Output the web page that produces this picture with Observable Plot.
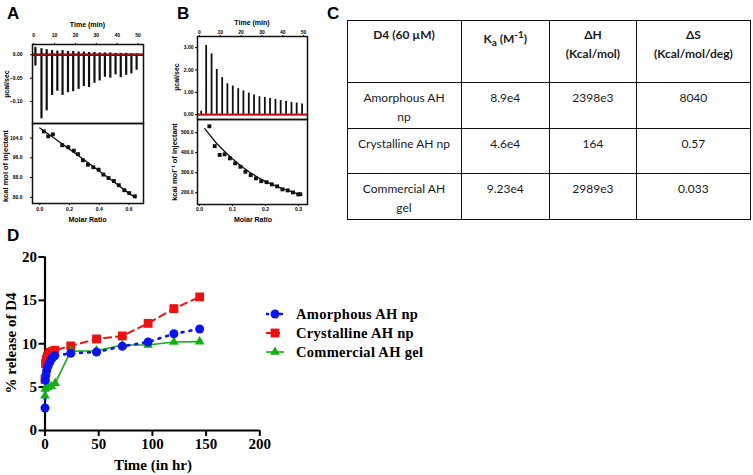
<!DOCTYPE html>
<html><head><meta charset="utf-8">
<script src="https://cdn.jsdelivr.net/npm/d3@7"></script>
<script src="https://cdn.jsdelivr.net/npm/@observablehq/plot@0.6"></script>
<style>
html,body{margin:0;padding:0;background:#fff;}
#fig{position:relative;width:753px;height:475px;overflow:hidden;font-family:"Liberation Sans",Arial,sans-serif;color:#000;}
#fig > *{position:absolute;}
.pl{font-weight:bold;font-size:17px;line-height:1;}
.al{font-weight:bold;font-size:7px;white-space:nowrap;line-height:1;transform:translate(-50%,-50%);}
.al.rot{transform:translate(-50%,-50%) rotate(-90deg);}
.dl{font-family:"Liberation Serif","Times New Roman",serif;font-weight:bold;font-size:15px;white-space:nowrap;line-height:1;transform:translate(-50%,-50%);}
.dl.rot{transform:translate(-50%,-50%) rotate(-90deg);}
table{border-collapse:collapse;table-layout:fixed;font-family:Lato,sans-serif;font-size:12px;color:#1a1a1a;}
td{border:1.5px solid #111;text-align:center;vertical-align:top;white-space:pre-line;line-height:19px;padding:5px 2px 0 2px;}
tr.h td{font-weight:bold;padding-top:4px;}
.leg{font-family:"Liberation Serif","Times New Roman",serif;font-weight:bold;font-size:14.5px;letter-spacing:0.3px;white-space:nowrap;line-height:1;}
.leg div{display:flex;align-items:center;height:19px;}
.leg svg{margin-right:12px;}
</style></head><body>
<div id="fig"></div>
<script>
// ---------- DATA ----------
// Panel A: ITC thermogram (µcal/sec) and isotherm
const injTimesA = [0.8, 3.7, 6.2, 8.8, 11.3, 13.8, 16.4, 18.9, 21.5, 24.0, 26.5, 29.1, 31.6, 34.1, 36.7, 39.2, 41.7, 44.3, 46.8, 49.3];
const aPeaks = [-0.024, -0.137, -0.120, -0.087, -0.078, -0.087, -0.081, -0.079, -0.074, -0.068, -0.070, -0.061, -0.056, -0.048, -0.050, -0.043, -0.049, -0.044, -0.041, -0.033];
const aOvers = [0.016, 0.013, 0.011, 0.009, 0.008, 0.009, 0.007, 0.007, 0.006, 0.006, 0.005, 0.005, 0.004, 0.004, 0.004, 0.003, 0.003, 0.003, 0.002, 0.002];
const molarA = [0.027, 0.057, 0.088, 0.151, 0.192, 0.229, 0.257, 0.290, 0.324, 0.360, 0.396, 0.428, 0.463, 0.499, 0.532, 0.569, 0.602, 0.640];
const heatA = [106.7, 104.7, 105.5, 101.1, 100.3, 98.9, 97.5, 95.0, 93.2, 92.2, 91.2, 89.2, 87.8, 86.6, 84.9, 82.9, 81.7, 80.4];
const fitAx = [0.0, 0.1, 0.2, 0.3, 0.4, 0.5, 0.6, 0.644];
const fitAy = [108.1, 103.8, 99.5, 95.1, 90.7, 86.2, 81.6, 79.8];
// Panel B
const injTimesB = [0.8, 3.2, 5.8, 8.3, 10.9, 13.4, 16.0, 18.6, 21.1, 23.7, 26.2, 28.8, 31.4, 33.9, 36.5, 39.0, 41.6, 44.2, 46.7, 49.3];
const bPeaks = [0.15, 3.10, 2.72, 2.02, 1.66, 1.38, 1.28, 1.16, 1.06, 0.96, 0.88, 0.80, 0.77, 0.72, 0.68, 0.63, 0.60, 0.55, 0.52, 0.47];
const molarB = [0.030, 0.046, 0.061, 0.076, 0.092, 0.108, 0.124, 0.139, 0.155, 0.171, 0.187, 0.203, 0.219, 0.235, 0.251, 0.267, 0.283, 0.299, 0.305];
const heatB = [532, 433, 389, 392, 372, 347, 330, 305, 288, 272, 258, 253, 242, 232, 217, 212, 202, 192, 193];
const fitBx = [0.016, 0.05, 0.08, 0.1, 0.125, 0.15, 0.175, 0.2, 0.225, 0.25, 0.275, 0.3, 0.31];
const fitBy = [520, 450, 400, 370, 335, 305, 278, 256, 238, 222, 207, 193, 188];
// tick labels
const timeTicks = [0, 10, 20, 30, 40, 50];
const aTopTicks = [0, -0.05, -0.10];
const aBotTicks = [80, 88, 96, 104];
const aMolarTicks = [0, 0.2, 0.4, 0.6];
const bTopTicks = [0, 1, 2, 3];
const bBotTicks = [200, 300, 400, 500];
const bMolarTicks = [0, 0.1, 0.2, 0.3];
// Panel C table
const tableHeader = ["D4 (60 µM)", "K<sub>a</sub> (M<sup>-1</sup>)", "ΔH\n(Kcal/mol)", "ΔS\n(Kcal/mol/deg)"];
const tableNames = ["Amorphous AH\nnp", "Crystalline AH np", "Commercial AH\ngel"];
const tableKa = ["8.9e4", "4.6e4", "9.23e4"];
const tableDH = ["2398e3", "164", "2989e3"];
const tableDS = ["8040", "0.57", "0.033"];
// Panel D: release
const seriesNames = ["Amorphous AH np", "Crystalline AH np", "Commercial AH gel"];
const timeAmorph = [0, 0.3, 0.9, 1.5, 2.8, 4.6, 6.5, 9.0, 24, 48, 72, 96, 120, 144];
const relAmorph = [2.6, 5.8, 6.4, 6.9, 7.4, 7.9, 8.3, 8.6, 8.9, 9.05, 9.7, 10.2, 11.15, 11.7];
const timeCryst = [0, 0.5, 1.1, 2.0, 3.6, 5.1, 6.7, 9.1, 24, 48, 72, 96, 120, 144];
const relCryst = [5.9, 7.7, 8.15, 8.5, 8.8, 9.0, 9.1, 9.25, 9.75, 10.55, 10.9, 12.35, 14.05, 15.4];
const timeGel = [0, 0.2, 2.6, 5.8, 9.5, 24, 48, 72, 96, 120, 144];
const relGel = [4.0, 4.8, 4.95, 5.1, 5.45, 9.15, 9.2, 9.85, 9.85, 10.2, 10.25];
const xTicksD = [0, 50, 100, 150, 200];
const yTicksD = [0, 5, 10, 15, 20];

// ---------- BUILD ----------
const fig = document.getElementById("fig");
function put(el, left, top) { el.style.left = left + "px"; el.style.top = top + "px"; fig.appendChild(el); return el; }
function txt(s, cls, x, y) { const d = document.createElement("div"); d.className = cls; d.textContent = s; return put(d, x, y); }

const itcStyle = {fontFamily: "Liberation Sans, Arial, sans-serif", fontWeight: "bold", fontSize: "5px", overflow: "visible", background: "transparent", color: "#000"};
const RED = "#c8171b";

// A top
const injA = injTimesA.map((t, i) => ({t, up: aOvers[i], peak: aPeaks[i]}));
put(Plot.plot({
  width: 150, height: 123, marginLeft: 32, marginRight: 7, marginTop: 44, marginBottom: 0,
  x: {domain: [-0.6, 52.6]}, y: {domain: [-0.147, 0.022]},
  style: itcStyle,
  marks: [
    Plot.axisX(timeTicks, {anchor: "top", tickSize: 2, tickPadding: 6, label: null, fill: "#000"}),
    Plot.axisY(aTopTicks, {anchor: "left", tickSize: 2, tickPadding: 8, tickFormat: d3.format(".2f"), label: null, fill: "#000"}),
    Plot.ruleY([0], {stroke: "#111", strokeWidth: 2.5}),
    Plot.ruleX(injA, {x: "t", y1: "up", y2: "peak", stroke: "#111", strokeWidth: 2.2}),
    Plot.ruleY([0], {stroke: RED, strokeWidth: 1.3}),
    Plot.frame({stroke: "#111", strokeWidth: 1.5})
  ]
}), 0, 0);
// A bottom
const ptsA = molarA.map((m, i) => ({m, h: heatA[i]}));
const fitA = fitAx.map((m, i) => ({m, h: fitAy[i]}));
put(Plot.plot({
  width: 150, height: 100, marginLeft: 32, marginRight: 7, marginTop: 0, marginBottom: 20,
  x: {domain: [-0.049, 0.698]}, y: {domain: [77.5, 109.9]},
  style: itcStyle,
  marks: [
    Plot.axisX(aMolarTicks, {anchor: "bottom", tickSize: 2, tickPadding: 2, tickFormat: d3.format(".1f"), label: null, fill: "#000"}),
    Plot.axisY(aBotTicks, {anchor: "left", tickSize: 2, tickPadding: 8, tickFormat: d3.format(".1f"), label: null, fill: "#000"}),
    Plot.line(fitA, {x: "m", y: "h", stroke: "#111", strokeWidth: 1.3}),
    Plot.dot(ptsA, {x: "m", y: "h", symbol: "square", r: 2.2, fill: "#111"}),
    Plot.frame({stroke: "#111", strokeWidth: 1.5})
  ]
}), 0, 123);

// B top
const injB = injTimesB.map((t, i) => ({t, peak: bPeaks[i]}));
put(Plot.plot({
  width: 152, height: 119, marginLeft: 37, marginRight: 5, marginTop: 36, marginBottom: 0,
  x: {domain: [-0.96, 51.9]}, y: {domain: [-0.22, 3.5]},
  style: itcStyle,
  marks: [
    Plot.axisX(timeTicks, {anchor: "top", tickSize: 2, tickPadding: 1, label: null, fill: "#000"}),
    Plot.axisY(bTopTicks, {anchor: "left", tickSize: 2, tickPadding: 2, tickFormat: d3.format(".2f"), label: null, fill: "#000"}),
    Plot.ruleX(injB, {x: "t", y1: 0, y2: "peak", stroke: "#111", strokeWidth: 1.8}),
    Plot.ruleY([0], {stroke: RED, strokeWidth: 2.2}),
    Plot.frame({stroke: "#111", strokeWidth: 1.5})
  ]
}), 160, 0);
// B bottom
const ptsB = molarB.map((m, i) => ({m, h: heatB[i]}));
const fitB = fitBx.map((m, i) => ({m, h: fitBy[i]}));
put(Plot.plot({
  width: 152, height: 105, marginLeft: 37, marginRight: 5, marginTop: 0, marginBottom: 20,
  x: {domain: [-0.006, 0.327]}, y: {domain: [141.5, 566]},
  style: itcStyle,
  marks: [
    Plot.axisX(bMolarTicks, {anchor: "bottom", tickSize: 2, tickPadding: 1, tickFormat: d3.format(".1f"), label: null, fill: "#000"}),
    Plot.axisY(bBotTicks, {anchor: "left", tickSize: 2, tickPadding: 2, tickFormat: d3.format(".1f"), label: null, fill: "#000"}),
    Plot.line(fitB, {x: "m", y: "h", stroke: "#111", strokeWidth: 1.3}),
    Plot.dot(ptsB, {x: "m", y: "h", symbol: "square", r: 2.2, fill: "#111"}),
    Plot.frame({stroke: "#111", strokeWidth: 1.5})
  ]
}), 160, 119);

// ITC axis labels
txt("Time (min)", "al", 87.5, 24);
txt("Time (min)", "al", 252, 22);
txt("µcal/sec", "al rot", 6, 84);
txt("µcal/sec", "al rot", 176, 77);
txt("kcal mol of injectant", "al rot", 6, 166).style.fontSize = "7.5px";
txt("kcal mol⁻¹ of injectant", "al rot", 175, 162).style.fontSize = "7.5px";
txt("Molar Ratio", "al", 87.5, 219);
txt("Molar Ratio", "al", 253, 219);

// Panel labels
txt("A", "pl", 7, 5);
txt("B", "pl", 177, 5);
txt("C", "pl", 327, 5);
txt("D", "pl", 7, 227);

// Table C
const tbl = document.createElement("table");
tbl.style.width = "403.5px";
const colW = [114, 88.6, 86.7, 114.2];
const cg = document.createElement("colgroup");
colW.forEach(w => { const c = document.createElement("col"); c.style.width = w + "px"; cg.appendChild(c); });
tbl.appendChild(cg);
const rowH = [62.3, 46, 45, 45.7];
const hr = document.createElement("tr"); hr.className = "h"; hr.style.height = rowH[0] + "px";
tableHeader.forEach(h => { const td = document.createElement("td"); td.innerHTML = h; hr.appendChild(td); });
tbl.appendChild(hr);
tableNames.forEach((n, i) => {
  const tr = document.createElement("tr"); tr.style.height = rowH[i + 1] + "px";
  [n, tableKa[i], tableDH[i], tableDS[i]].forEach(v => { const td = document.createElement("td"); td.textContent = v; tr.appendChild(td); });
  tbl.appendChild(tr);
});
put(tbl, 346.5, 20);

// Panel D
const BLUE = "#0a14ee", REDD = "#ee1111", GREEN = "#10b010";
const dA = timeAmorph.map((t, i) => ({t, v: relAmorph[i]}));
const dC = timeCryst.map((t, i) => ({t, v: relCryst[i]}));
const dG = timeGel.map((t, i) => ({t, v: relGel[i]}));
put(Plot.plot({
  width: 275, height: 230, marginLeft: 44.5, marginRight: 15.7, marginTop: 11.5, marginBottom: 45,
  x: {domain: [0, 200]}, y: {domain: [0, 20]},
  style: {fontFamily: "Liberation Serif, Times New Roman, serif", fontWeight: "bold", fontSize: "15px", overflow: "visible", background: "transparent", color: "#000"},
  marks: [
    Plot.axisX(xTicksD, {tickSize: 6, strokeWidth: 2, tickPadding: 2, label: null}),
    Plot.axisY(yTicksD, {tickSize: 6, strokeWidth: 2, tickPadding: 2, label: null}),
    Plot.ruleX([0], {strokeWidth: 2.2, stroke: "#000"}),
    Plot.ruleY([0], {strokeWidth: 2.2, stroke: "#000"}),
    Plot.line(dC, {x: "t", y: "v", stroke: REDD, strokeWidth: 2, strokeDasharray: "7,5"}),
    Plot.line(dG, {x: "t", y: "v", stroke: GREEN, strokeWidth: 1.6}),
    Plot.line(dA, {x: "t", y: "v", stroke: BLUE, strokeWidth: 2.6, strokeDasharray: "2,6", strokeLinecap: "round"}),
    Plot.dot(dC, {x: "t", y: "v", symbol: "square", r: 5, fill: REDD}),
    Plot.dot(dG, {x: "t", y: "v", symbol: "triangle", r: 3.6, fill: GREEN}),
    Plot.dot(dA, {x: "t", y: "v", r: 4.5, fill: BLUE})
  ]
}), 0, 245);
txt("Time (in hr)", "dl", 153, 465);
txt("% release of D4", "dl rot", 11, 343);

// Legend D
const leg = document.createElement("div"); leg.className = "leg";
const legStyles = [
  {c: BLUE, dash: "2,5", sw: 2.6, sym: "circle"},
  {c: REDD, dash: "5,4", sw: 2, sym: "square"},
  {c: GREEN, dash: null, sw: 1.6, sym: "triangle"}
];
seriesNames.forEach((n, i) => {
  const row = document.createElement("div");
  const s = legStyles[i];
  const sv = d3.create("svg").attr("width", 18).attr("height", 12);
  sv.append("line").attr("x1", 0).attr("x2", 18).attr("y1", 6).attr("y2", 6).attr("stroke", s.c).attr("stroke-width", s.sw).attr("stroke-dasharray", s.dash).attr("stroke-linecap", s.dash === "2,5" ? "round" : null);
  const sym = s.sym === "circle" ? d3.symbolCircle : s.sym === "square" ? d3.symbolSquare : d3.symbolTriangle;
  const size = s.sym === "circle" ? Math.PI * 4.5 * 4.5 : s.sym === "square" ? Math.PI * 25 : Math.PI * 3.6 * 3.6;
  sv.append("path").attr("d", d3.symbol(sym, size)()).attr("transform", "translate(9,6)").attr("fill", s.c);
  row.appendChild(sv.node());
  const sp = document.createElement("span"); sp.textContent = n; row.appendChild(sp);
  leg.appendChild(row);
});
put(leg, 266, 304.5);
</script>
</body></html>
